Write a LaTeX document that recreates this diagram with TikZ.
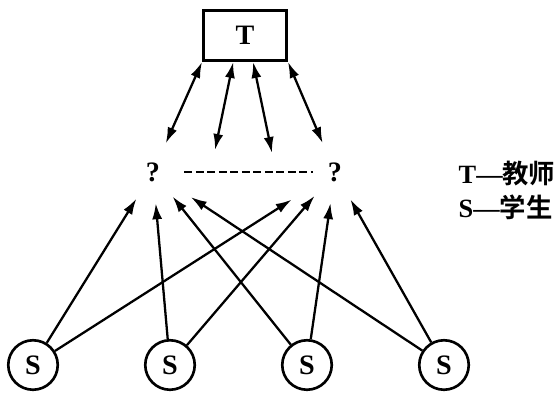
\documentclass[tikz,border=0pt]{standalone}
\usepackage{fontspec}
\setmainfont{Liberation Serif}
\newfontfamily\cjk{Noto Sans CJK SC}[BoldFont={Noto Sans CJK SC Bold}]
\usetikzlibrary{arrows.meta, positioning}

\begin{document}
\begin{tikzpicture}[
          on grid,
          teacher/.style={rectangle, draw, line width=1.7pt, minimum width=1.66cm, minimum height=1.0cm, font=\fontsize{16}{18}\selectfont\bfseries},
          student/.style={circle, draw, line width=1.5pt, minimum size=0.99cm, inner sep=0pt, font=\fontsize{16}{18}\selectfont\bfseries},
          query/.style={circle, minimum size=1.24cm, inner sep=0pt, font=\fontsize{16}{18}\selectfont\bfseries},
          legend/.style={align=left, font=\fontsize{15}{19}\selectfont\bfseries},
          link/.style={{Latex[length=0.32cm,width=0.2cm]}-{Latex[length=0.32cm,width=0.2cm]}, line width=1.3pt},
          ask/.style={-{Latex[length=0.32cm,width=0.2cm]}, line width=1.3pt}
        ]
          \useasboundingbox (0,0) rectangle (11.16,-8.08);
          \node (t) [teacher] at (4.90,-0.71) {T};
          \node (q1) [query, below left=2.73cm and 1.84cm of t] {?};
          \node (q2) [query, right=3.64cm of q1] {?};
          \node (d1) [coordinate, above right=0.44cm and 1.24cm of q1] {};
          \node (d2) [coordinate, above left=0.38cm and 1.26cm of q2] {};
          \node (s1) [student, below left=3.86cm and 2.40cm of q1] {S};
          \node (s2) [student, right=2.74cm of s1] {S};
          \node (s3) [student, right=2.74cm of s2] {S};
          \node (s4) [student, right=2.74cm of s3] {S};
          \node (key) [legend, below right=0.37cm and 3.44cm of q2] {T—{\cjk 教师}\\S—{\cjk 学生}};
          \draw [link] (t.south west) -- (q1);
          \draw [link] (t.-114) -- (d1);
          \draw [link] (t.-73) -- (d2);
          \draw [link] (t.south east) -- (q2);
          \draw [dash pattern=on 0.16cm off 0.07cm, line width=1.1pt, shorten >=-0.18cm] (q1.east) -- (q2.west);
          \draw [ask] (s1) -- (q1);
          \draw [ask] (s2) -- (q1);
          \draw [ask] (s3) -- (q1);
          \draw [ask, shorten >=0.28cm] (s4) -- (q1);
          \draw [ask, shorten >=0.4cm] (s1) -- (q2);
          \draw [ask] (s2) -- (q2);
          \draw [ask] (s3) -- (q2);
          \draw [ask] (s4) -- (q2);
        \end{tikzpicture}
\end{document}
